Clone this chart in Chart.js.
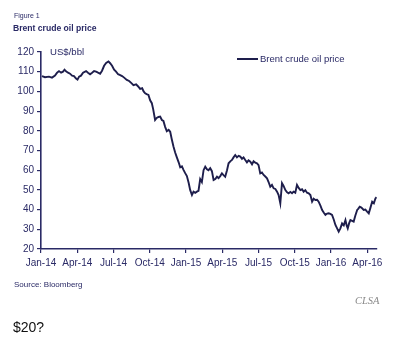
<!DOCTYPE html>
<html>
<head>
<meta charset="utf-8">
<script src="https://cdn.jsdelivr.net/npm/chart.js@4.4.1/dist/chart.umd.min.js"></script>
<style>
  body { margin: 0; background: #fff; }
  .wrap { position: relative; width: 402px; height: 354px; overflow: hidden; font-family: "Liberation Sans", Arial, sans-serif; }
  canvas { position: absolute; left: 0; top: 0; }
  .txt { position: absolute; white-space: nowrap; color: #2a2a66; }
  .fig { left: 14px; top: 12px; font-size: 7px; }
  .title { left: 13px; top: 23px; font-size: 8.6px; font-weight: bold; }
  .unit { left: 50px; top: 46px; font-size: 9.6px; }
  .legline { position: absolute; left: 237px; top: 58px; width: 21px; height: 1.6px; background: #1e1e4c; }
  .legtxt { left: 260px; top: 53px; font-size: 9.5px; }
  .src { left: 14px; top: 280px; font-size: 8px; }
  .clsa { left: 355px; top: 295px; font-size: 10.5px; font-style: italic; font-family: "Liberation Serif", serif; color: #8a8a8a; }
  .q { left: 13px; top: 319px; font-size: 14px; color: #111; }
</style>
</head>
<body>
<div class="wrap">
  <canvas id="c" width="402" height="354"></canvas>
  <div class="txt fig">Figure 1</div>
  <div class="txt title">Brent crude oil price</div>
  <div class="txt unit">US$/bbl</div>
  <div class="legline"></div>
  <div class="txt legtxt">Brent crude oil price</div>
  <div class="txt src">Source: Bloomberg</div>
  <div class="txt clsa">CLSA</div>
  <div class="txt q">$20?</div>
</div>
<script>
// months since Jan-14
const months = [0.08, 0.33, 0.66, 0.91, 1.16, 1.33, 1.49, 1.66, 1.82, 1.95, 2.07, 2.24, 2.40, 2.57, 2.73, 2.90,
  3.02, 3.15, 3.31, 3.48, 3.73, 3.89, 4.06, 4.23, 4.39, 4.56, 4.72, 4.89, 5.05, 5.22, 5.39, 5.58,
  5.72, 5.88, 6.05, 6.21, 6.38, 6.55, 6.71, 6.88, 7.10, 7.29, 7.46, 7.65, 7.87, 8.04, 8.20, 8.37,
  8.49, 8.62, 8.74, 8.89, 9.03, 9.17, 9.28, 9.44, 9.57, 9.72, 9.86, 10.00, 10.13, 10.27, 10.41, 10.56,
  10.69, 10.81, 10.96, 11.10, 11.24, 11.39, 11.52, 11.66, 11.79, 11.93, 12.07, 12.22, 12.34, 12.49, 12.62, 12.76,
  12.90, 13.03, 13.17, 13.31, 13.45, 13.59, 13.73, 13.86, 14.00, 14.14, 14.28, 14.42, 14.56, 14.69, 14.83, 14.97,
  15.10, 15.24, 15.39, 15.52, 15.66, 15.80, 15.93, 16.07, 16.21, 16.35, 16.49, 16.63, 16.76, 16.90, 17.04, 17.17,
  17.32, 17.46, 17.59, 17.73, 17.87, 18.00, 18.14, 18.28, 18.42, 18.56, 18.70, 18.83, 18.97, 19.11, 19.25, 19.39,
  19.53, 19.66, 19.80, 19.94, 20.07, 20.22, 20.36, 20.49, 20.63, 20.77, 20.90, 21.04, 21.18, 21.32, 21.46, 21.60,
  21.73, 21.87, 22.01, 22.15, 22.29, 22.43, 22.56, 22.70, 22.84, 22.97, 23.12, 23.26, 23.39, 23.53, 23.67, 23.80,
  23.94, 24.08, 24.22, 24.36, 24.50, 24.63, 24.77, 24.91, 25.05, 25.19, 25.29, 25.38, 25.49, 25.60, 25.74, 25.87,
  26.01, 26.16, 26.26, 26.37, 26.51, 26.70, 26.84, 26.98, 27.12, 27.26, 27.40, 27.54, 27.67, 27.76];

// US$/bbl
const prices = [107.8, 107.2, 107.5, 107.0, 108.0, 109.5, 110.3, 109.5, 110.0, 111.0, 110.2, 109.5, 109.0, 108.0, 107.8, 106.5,
  106.0, 107.5, 108.0, 109.5, 110.3, 109.5, 108.7, 109.5, 110.3, 110.0, 109.5, 109.0, 110.5, 113.0, 114.5, 115.2,
  114.3, 113.0, 111.0, 110.0, 108.7, 108.3, 107.8, 107.0, 105.8, 105.3, 104.3, 103.2, 103.6, 102.5, 101.3, 101.6,
  100.0, 99.0, 98.6, 98.2, 95.5, 94.0, 91.0, 85.5, 86.5, 87.0, 87.2, 85.5, 85.0, 82.0, 79.8, 80.5,
  79.5, 76.0, 72.0, 69.0, 66.5, 64.0, 61.5, 62.0, 60.2, 58.5, 57.0, 53.5, 50.0, 47.4, 49.1, 48.5,
  49.1, 49.5, 55.5, 54.0, 60.0, 61.8, 60.5, 60.0, 61.0, 59.5, 55.0, 55.5, 56.7, 56.0, 57.0, 58.4,
  57.5, 56.7, 60.0, 63.5, 64.5, 65.2, 66.5, 67.7, 66.5, 67.3, 66.9, 65.8, 66.5, 65.2, 64.0, 65.0,
  64.3, 63.0, 64.5, 63.8, 63.5, 62.6, 58.4, 58.8, 57.6, 56.8, 55.9, 54.0, 51.6, 52.5, 50.8, 50.5,
  49.1, 47.4, 43.2, 53.4, 52.0, 49.9, 48.8, 48.3, 49.0, 48.3, 49.1, 48.6, 52.5, 51.0, 49.9, 50.3,
  49.1, 49.9, 48.6, 48.3, 47.4, 44.0, 45.5, 44.9, 45.0, 44.0, 42.0, 39.8, 38.5, 37.3, 38.0, 38.1,
  37.8, 37.3, 35.0, 32.2, 30.5, 28.8, 30.5, 33.0, 32.0, 34.7, 32.0, 30.5, 33.0, 34.7, 34.3, 33.9,
  37.0, 39.8, 40.5, 41.5, 41.0, 39.8, 40.0, 39.0, 38.1, 41.0, 44.0, 43.2, 45.7, 46.3];

const tickMonths = [0, 3, 6, 9, 12, 15, 18, 21, 24, 27];
const tickLabels = ['Jan-14', 'Apr-14', 'Jul-14', 'Oct-14', 'Jan-15', 'Apr-15', 'Jul-15', 'Oct-15', 'Jan-16', 'Apr-16'];

const navy = '#2a2a66';
const lineCol = '#1e1e4c';

new Chart(document.getElementById('c'), {
  type: 'line',
  data: {
    datasets: [{
      label: 'Brent crude oil price',
      data: months.map((m, i) => ({ x: m, y: prices[i] })),
      borderColor: lineCol,
      borderWidth: 1.9,
      pointRadius: 0,
      tension: 0,
      fill: false
    }]
  },
  options: {
    responsive: false,
    animation: false,
    devicePixelRatio: 1,
    layout: { padding: { left: 0, top: 52, right: 25, bottom: 75 } },
    plugins: { legend: { display: false }, tooltip: { enabled: false } },
    scales: {
      x: {
        type: 'linear',
        min: 0,
        max: 27.8,
        afterFit: s => { s.height = 30; },
        afterBuildTicks: s => { s.ticks = tickMonths.map(v => ({ value: v })); },
        ticks: {
          autoSkip: false,
          maxRotation: 0,
          padding: 4,
          color: navy,
          font: { family: 'Liberation Sans', size: 10 },
          callback: v => tickLabels[tickMonths.indexOf(v)]
        },
        grid: { drawOnChartArea: false, drawTicks: true, tickLength: 4, color: navy, lineWidth: 1.2 },
        border: { display: true, color: navy, width: 1.6 }
      },
      y: {
        min: 20,
        max: 120,
        afterFit: s => { s.width = 41; },
        ticks: {
          stepSize: 10,
          padding: 3,
          color: navy,
          font: { family: 'Liberation Sans', size: 10 }
        },
        grid: { drawOnChartArea: false, drawTicks: true, tickLength: 4, color: navy, lineWidth: 1.2 },
        border: { display: true, color: navy, width: 1.6 }
      }
    }
  }
});
</script>
</body>
</html>
